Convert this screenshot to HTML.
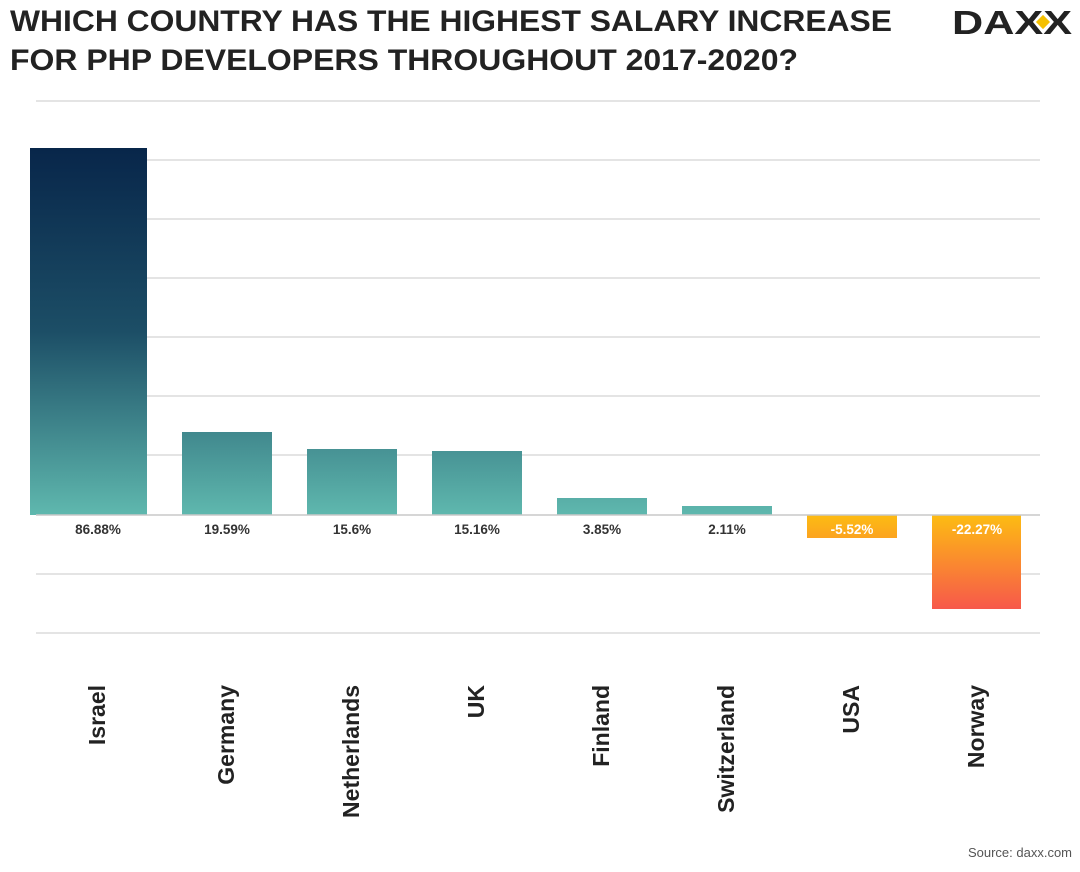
<!DOCTYPE html>
<html><head><meta charset="utf-8"><style>
body{margin:0;width:1080px;height:867px;background:#fff;overflow:hidden;font-family:"Liberation Sans",sans-serif}
</style></head><body>
<svg width="1080" height="867" xmlns="http://www.w3.org/2000/svg" font-family="Liberation Sans, sans-serif">
<defs>
<linearGradient id="g" gradientUnits="userSpaceOnUse" x1="0" y1="148" x2="0" y2="515">
<stop offset="0" stop-color="#08264a"/><stop offset="0.5" stop-color="#1c4e66"/><stop offset="1" stop-color="#5fb8ae"/></linearGradient>
<linearGradient id="o" gradientUnits="userSpaceOnUse" x1="0" y1="515" x2="0" y2="609">
<stop offset="0" stop-color="#fdbc12"/><stop offset="1" stop-color="#f7584b"/></linearGradient>
</defs>
<text x="10" y="31" font-size="30" font-weight="bold" fill="#222" textLength="882" lengthAdjust="spacingAndGlyphs">WHICH COUNTRY HAS THE HIGHEST SALARY INCREASE</text>
<text x="10" y="70" font-size="30" font-weight="bold" fill="#222" textLength="788" lengthAdjust="spacingAndGlyphs">FOR PHP DEVELOPERS THROUGHOUT 2017-2020?</text>
<text x="952" y="34" font-size="33" font-weight="bold" fill="#222" textLength="120" lengthAdjust="spacingAndGlyphs">DAXX</text>
<rect x="1038" y="17" width="10" height="10" fill="#f5c000" transform="rotate(45 1043 22)"/>
<g stroke="#dcdcdc" stroke-width="1.5">
<line x1="36" x2="1040" y1="101" y2="101"/><line x1="36" x2="1040" y1="160" y2="160"/>
<line x1="36" x2="1040" y1="219" y2="219"/><line x1="36" x2="1040" y1="278" y2="278"/>
<line x1="36" x2="1040" y1="337" y2="337"/><line x1="36" x2="1040" y1="396" y2="396"/>
<line x1="36" x2="1040" y1="455" y2="455"/><line x1="36" x2="1040" y1="574" y2="574"/>
<line x1="36" x2="1040" y1="633" y2="633"/>
</g>
<g fill="url(#g)">
<rect x="30" y="148" width="117" height="367"/>
<rect x="182" y="432" width="90" height="83"/>
<rect x="307" y="449" width="90" height="66"/>
<rect x="432" y="451" width="90" height="64"/>
<rect x="557" y="498" width="90" height="17"/>
<rect x="682" y="506" width="90" height="9"/>
</g>
<g fill="url(#o)">
<rect x="807" y="515" width="90" height="23"/>
<rect x="932" y="515" width="89" height="94"/>
</g>
<line x1="36" x2="1040" y1="515" y2="515" stroke="#c8c8c8" stroke-width="1.5"/>
<g font-size="13.5" font-weight="bold" fill="#333" text-anchor="middle">
<text x="98" y="534">86.88%</text><text x="227" y="534">19.59%</text>
<text x="352" y="534">15.6%</text><text x="477" y="534">15.16%</text>
<text x="602" y="534">3.85%</text><text x="727" y="534">2.11%</text>
<text x="852" y="534" fill="#fff">-5.52%</text><text x="977" y="534" fill="#fff">-22.27%</text>
</g>
<g font-size="23" font-weight="bold" fill="#222" text-anchor="end">
<text transform="translate(105,685) rotate(-90)">Israel</text>
<text transform="translate(234,685) rotate(-90)">Germany</text>
<text transform="translate(359,685) rotate(-90)">Netherlands</text>
<text transform="translate(484,685) rotate(-90)">UK</text>
<text transform="translate(609,685) rotate(-90)">Finland</text>
<text transform="translate(734,685) rotate(-90)">Switzerland</text>
<text transform="translate(859,685) rotate(-90)">USA</text>
<text transform="translate(984,685) rotate(-90)">Norway</text>
</g>
<text x="1072" y="857" font-size="13" fill="#555" text-anchor="end">Source: daxx.com</text>
</svg>
</body></html>
